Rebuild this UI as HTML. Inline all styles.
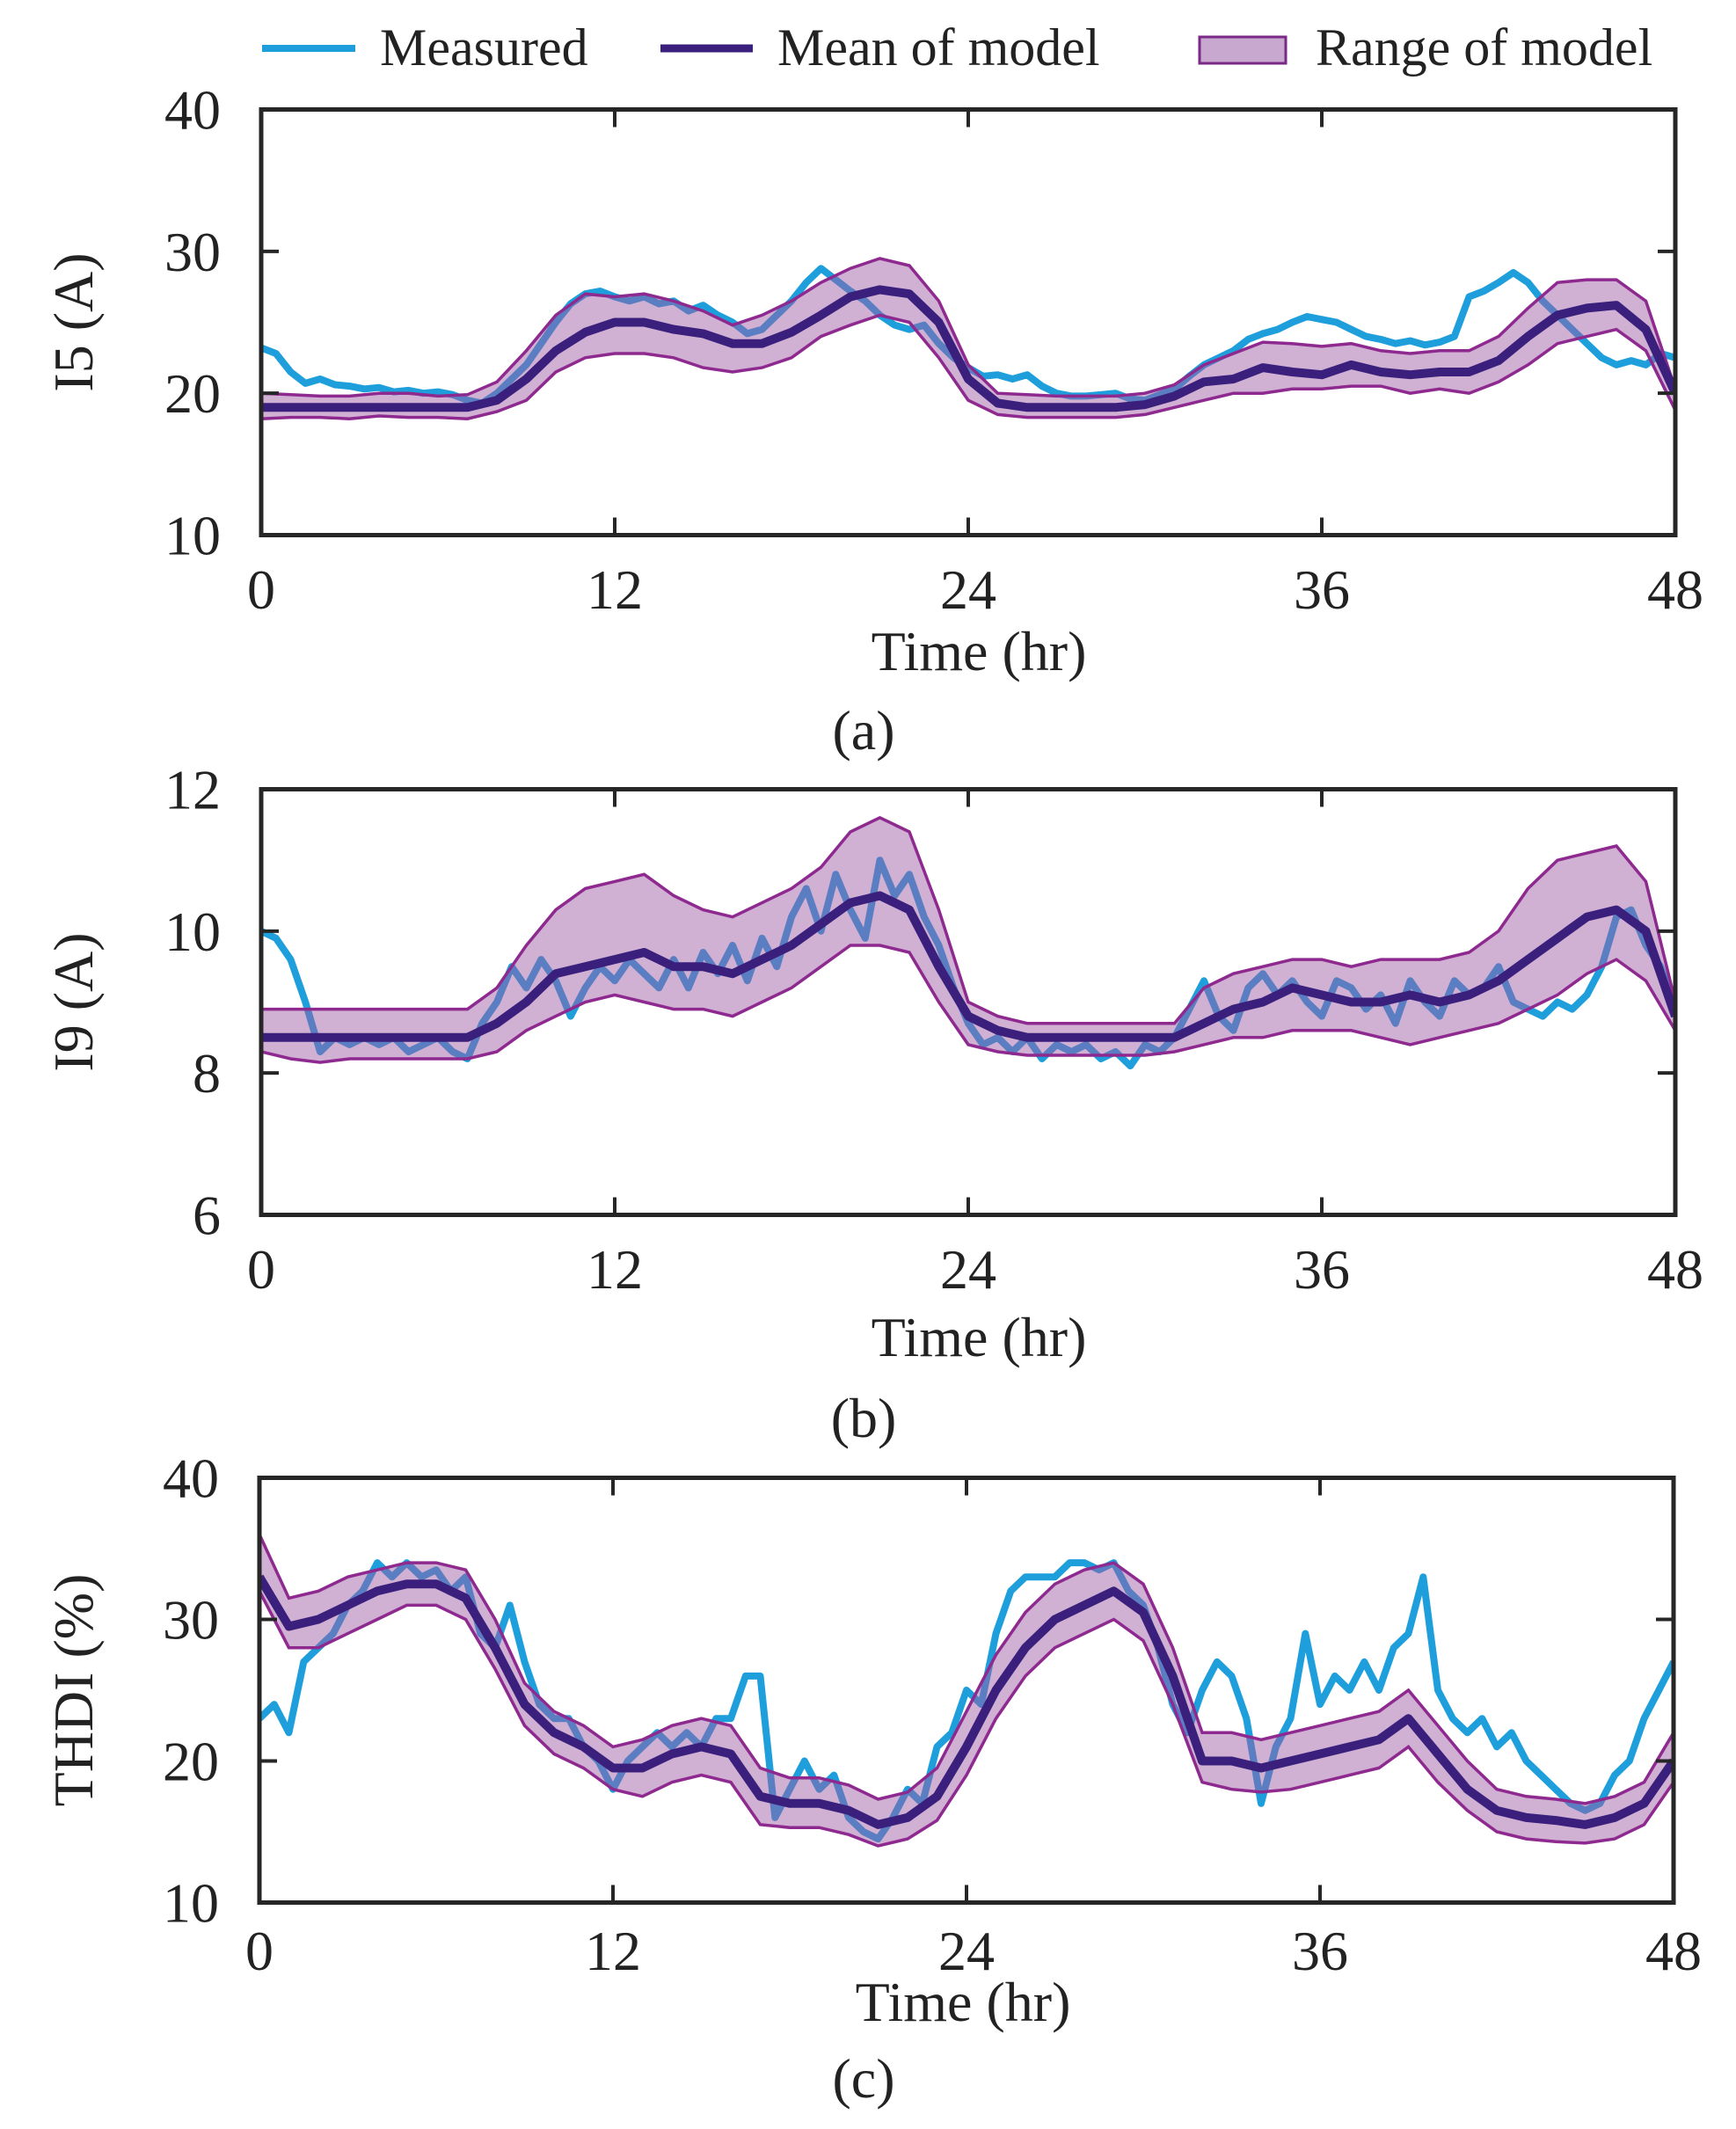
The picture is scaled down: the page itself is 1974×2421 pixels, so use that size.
<!DOCTYPE html>
<html><head><meta charset="utf-8"><style>
html,body{margin:0;padding:0;background:#fff;}
svg{display:block;font-family:"Liberation Serif",serif;}
</style></head><body>
<svg id="fig" width="1974" height="2421" viewBox="0 0 1974 2421" xmlns="http://www.w3.org/2000/svg">
<g>
<line x1="298" y1="55" x2="404" y2="55" stroke="#1e9fdc" stroke-width="8"/>
<text x="432" y="74" font-size="60" fill="#222">Measured</text>
<line x1="751" y1="55" x2="856" y2="55" stroke="#3a1f7c" stroke-width="9"/>
<text x="884" y="74" font-size="60" fill="#222">Mean of model</text>
<rect x="1364" y="42" width="98" height="30" fill="#c8a8cf" stroke="#7a2a86" stroke-width="3"/>
<text x="1496" y="74" font-size="60" fill="#222">Range of model</text>
</g>
</svg>
<script>
const hoursHalf = [];
for (let i = 0; i <= 96; i++) hoursHalf.push(i * 0.5);
const hoursFull = [];
for (let i = 0; i <= 48; i++) hoursFull.push(i);
const xTicks = [0, 12, 24, 36, 48];

// Panel (a) I5
const aYTicks = [10, 20, 30, 40];
const aMeasured = [23.2,22.8,21.5,20.7,21,20.6,20.5,20.3,20.4,20.1,20.2,20,20.1,19.9,19.5,19.3,20,21,22,23.5,25,26.3,27,27.2,26.8,26.5,26.8,26.3,26.5,25.8,26.2,25.5,25,24.2,24.5,25.5,26.5,27.8,28.8,28,27.2,26.5,25.5,24.8,24.5,24.8,23.5,22.5,21.8,21.2,21.3,21,21.3,20.5,20,19.8,19.8,19.9,20,19.6,19.5,19.9,20.3,21.2,22,22.5,23,23.8,24.2,24.5,25,25.4,25.2,25,24.5,24,23.8,23.5,23.7,23.4,23.6,24,26.8,27.2,27.8,28.5,27.8,26.5,25.5,24.5,23.5,22.5,22,22.3,22,22.8,22.5];
const aMean = [19,19,19,19,19,19,19,19,19.5,21,23,24.3,25,25,24.5,24.2,23.5,23.5,24.3,25.5,26.8,27.3,27,25,21,19.3,19,19,19,19,19.2,19.8,20.8,21,21.8,21.5,21.3,22,21.5,21.3,21.5,21.5,22.3,24,25.5,26,26.2,24.5,20];
const aUpper = [20,19.9,19.8,19.8,20,20,19.8,19.9,20.8,23,25.5,27,26.8,27,26.5,25.8,24.8,25.5,26.5,27.8,28.8,29.5,29,26.5,22,20,19.9,19.8,19.8,19.8,20,20.6,22,22.8,23.6,23.5,23.3,23.5,23,22.8,23,23,24,26,27.8,28,28,26.5,20.3];
const aLower = [18.2,18.3,18.3,18.2,18.4,18.3,18.3,18.2,18.7,19.5,21.5,22.5,22.8,22.8,22.5,21.8,21.5,21.8,22.5,24,24.8,25.5,25,22.5,19.5,18.5,18.3,18.3,18.3,18.3,18.5,19,19.5,20,20,20.3,20.3,20.5,20.5,20,20.3,20,20.8,22,23.5,24,24.5,23,18.8];

// Panel (b) I9
const bYTicks = [6, 8, 10, 12];
const bMeasured = [10,9.9,9.6,9,8.3,8.5,8.4,8.5,8.4,8.5,8.3,8.4,8.5,8.3,8.2,8.7,9,9.5,9.2,9.6,9.3,8.8,9.2,9.5,9.3,9.6,9.4,9.2,9.6,9.2,9.7,9.4,9.8,9.3,9.9,9.5,10.2,10.6,10,10.8,10.3,9.9,11,10.5,10.8,10.2,9.8,9.2,8.7,8.4,8.5,8.3,8.5,8.2,8.4,8.3,8.4,8.2,8.3,8.1,8.4,8.3,8.5,8.9,9.3,8.8,8.6,9.2,9.4,9.1,9.3,9,8.8,9.3,9.2,8.9,9.1,8.7,9.3,9,8.8,9.3,9.1,9.2,9.5,9,8.9,8.8,9,8.9,9.1,9.5,10.2,10.3,9.8,9.5,8.9];
const bMean = [8.5,8.5,8.5,8.5,8.5,8.5,8.5,8.5,8.7,9,9.4,9.5,9.6,9.7,9.5,9.5,9.4,9.6,9.8,10.1,10.4,10.5,10.3,9.5,8.8,8.6,8.5,8.5,8.5,8.5,8.5,8.5,8.7,8.9,9,9.2,9.1,9,9,9.1,9,9.1,9.3,9.6,9.9,10.2,10.3,10,8.8];
const bUpper = [8.9,8.9,8.9,8.9,8.9,8.9,8.9,8.9,9.2,9.8,10.3,10.6,10.7,10.8,10.5,10.3,10.2,10.4,10.6,10.9,11.4,11.6,11.4,10.3,9,8.8,8.7,8.7,8.7,8.7,8.7,8.7,9.2,9.4,9.5,9.6,9.6,9.5,9.6,9.6,9.6,9.7,10,10.6,11,11.1,11.2,10.7,9];
const bLower = [8.3,8.2,8.15,8.2,8.2,8.2,8.2,8.2,8.3,8.6,8.8,9,9.1,9,8.9,8.9,8.8,9,9.2,9.5,9.8,9.8,9.7,9,8.4,8.3,8.25,8.25,8.25,8.25,8.25,8.3,8.4,8.5,8.5,8.6,8.6,8.6,8.5,8.4,8.5,8.6,8.7,8.9,9.1,9.4,9.6,9.3,8.6];

// Panel (c) THDI
const cYTicks = [10, 20, 30, 40];
const cMeasured = [23,24,22,27,28,29,31,32,34,33,34,33,33.5,32,33,29,28,31,27,24,23,23,21,20,18,20,21,22,21,22,21,23,23,26,26,16,18,20,18,19,16,15,14.5,16,18,17,21,22,25,24,29,32,33,33,33,34,34,33.5,34,32,31,28,24,22,25,27,26,23,17,21,23,29,24,26,25,27,25,28,29,33,25,23,22,23,21,22,20,19,18,17,16.5,17,19,20,23,25,27];
const cMean = [33,29.5,30,31,32,32.5,32.5,31.5,28,24,22,21,19.5,19.5,20.5,21,20.5,17.5,17,17,16.5,15.5,16,17.5,21,25,28,30,31,32,30.5,26,20,20,19.5,20,20.5,21,21.5,23,20.5,18,16.5,16,15.8,15.5,16,17,20];
const cUpper = [36,31.5,32,33,33.5,34,34,33.5,30,25.5,23.5,22.5,21,21.5,22.5,23,22.5,19.5,18.8,18.8,18.3,17.3,17.8,19.5,23.5,27.5,30.5,32.5,33.5,34,32.5,28,22,22,21.5,22,22.5,23,23.5,25,22.5,20,18,17.5,17.3,17,17.5,18.5,22];
const cLower = [32,28,28,29,30,31,31,30,26.5,22.5,20.5,19.5,18,17.5,18.5,19,18.5,15.5,15.3,15.3,14.8,14,14.5,15.8,19,23,26,28,29,30,28.5,24,18.5,18,17.8,18,18.5,19,19.5,21,18.5,16.5,15,14.5,14.3,14.2,14.5,15.5,18.5];

const svg = document.getElementById('fig');
const NS = 'http://www.w3.org/2000/svg';
function mk(tag, attrs, parent) {
  const e = document.createElementNS(NS, tag);
  for (const k in attrs) e.setAttribute(k, attrs[k]);
  parent.appendChild(e);
  return e;
}

function drawPanel(cfg) {
  const L = cfg.left, R = cfg.right, T = cfg.top, B = cfg.bottom;
  const yMin = cfg.yTicks[0], yMax = cfg.yTicks[cfg.yTicks.length - 1];
  const xs = v => L + (v / 48) * (R - L);
  const ys = v => B - (v - yMin) / (yMax - yMin) * (B - T);
  const g = mk('g', {}, svg);
  
  

  const clipId = 'clip-' + cfg.name;
  const cp = mk('clipPath', {id: clipId}, g);
  mk('rect', {x: L, y: T, width: R - L, height: B - T}, cp);
  const plot = mk('g', {'clip-path': 'url(#' + clipId + ')'}, g);
  
  

  let d = '';
  cfg.measured.forEach((v, i) => { d += (i ? 'L' : 'M') + xs(hoursHalf[i]).toFixed(1) + ' ' + ys(v).toFixed(1); });
  const meas = mk('path', {d: d, fill: 'none', stroke: '#1e9fdc', 'stroke-width': 8, 'stroke-linejoin': 'round'}, plot);
  
  

  let bd = '';
  cfg.upper.forEach((v, i) => { bd += (i ? 'L' : 'M') + xs(hoursFull[i]).toFixed(1) + ' ' + ys(v).toFixed(1); });
  for (let i = cfg.lower.length - 1; i >= 0; i--) bd += 'L' + xs(hoursFull[i]).toFixed(1) + ' ' + ys(cfg.lower[i]).toFixed(1);
  bd += 'Z';
  const band = mk('path', {d: bd, fill: '#9c5aa3', 'fill-opacity': 0.48, stroke: 'none'}, plot);
  
  
  [['upper', cfg.upper], ['lower', cfg.lower]].forEach(([nm, arr]) => {
    let ed = '';
    arr.forEach((v, i) => { ed += (i ? 'L' : 'M') + xs(hoursFull[i]).toFixed(1) + ' ' + ys(v).toFixed(1); });
    const e = mk('path', {d: ed, fill: 'none', stroke: '#8e2a8f', 'stroke-width': 3.5}, plot);
    
    
  });

  let md = '';
  cfg.mean.forEach((v, i) => { md += (i ? 'L' : 'M') + xs(hoursFull[i]).toFixed(1) + ' ' + ys(v).toFixed(1); });
  const mean = mk('path', {d: md, fill: 'none', stroke: '#3a1f7c', 'stroke-width': 10, 'stroke-linejoin': 'round'}, plot);
  
  

  const fr = mk('rect', {x: L, y: T, width: R - L, height: B - T, fill: 'none', stroke: '#262626', 'stroke-width': 5}, g);
  
  

  xTicks.forEach(t => {
    const x = xs(t);
    if (t > 0 && t < 48) {
      const a = mk('line', {x1: x, y1: B, x2: x, y2: B - 20, stroke: '#262626', 'stroke-width': 4}, g);
      
      
      const b = mk('line', {x1: x, y1: T, x2: x, y2: T + 20, stroke: '#262626', 'stroke-width': 4}, g);
      
      
    }
    const tx = mk('text', {x: x, y: cfg.xLabelY, 'font-size': 64, 'text-anchor': 'middle', fill: '#222'}, g);
    
    
    tx.textContent = t;
  });
  cfg.yTicks.forEach(t => {
    const y = ys(t);
    if (t > yMin && t < yMax) {
      const a = mk('line', {x1: L, y1: y, x2: L + 20, y2: y, stroke: '#262626', 'stroke-width': 4}, g);
      
      
      const b = mk('line', {x1: R, y1: y, x2: R - 20, y2: y, stroke: '#262626', 'stroke-width': 4}, g);
      
      
    }
    const tx = mk('text', {x: L - 46, y: y + 22, 'font-size': 64, 'text-anchor': 'end', fill: '#222'}, g);
    
    
    tx.textContent = t;
  });
  const yt = mk('text', {x: 0, y: 0, 'font-size': 64, 'text-anchor': 'middle', fill: '#222',
    transform: 'translate(' + (cfg.yTitleX) + ',' + ((T + B) / 2) + ') rotate(-90)'}, g);
  
  
  yt.textContent = cfg.yTitle;
  const xt = mk('text', {x: cfg.xTitleX, y: cfg.xTitleY, 'font-size': 64, 'text-anchor': 'middle', fill: '#222'}, g);
  
  
  xt.textContent = 'Time (hr)';
  const cap = mk('text', {x: 982, y: cfg.capY, 'font-size': 64, 'text-anchor': 'middle', fill: '#222'}, g);
  
  
  cap.textContent = cfg.caption;
}

drawPanel({name: 'panel-a-i5', left: 297, right: 1905, top: 124.5, bottom: 608.5, yTicks: aYTicks,
  measured: aMeasured, mean: aMean, upper: aUpper, lower: aLower, xLabelY: 692, yTitle: 'I5 (A)', yTitleX: 105,
  xTitleX: 1113, xTitleY: 762, caption: '(a)', capY: 852});
drawPanel({name: 'panel-b-i9', left: 297, right: 1905, top: 897.5, bottom: 1381.5, yTicks: bYTicks,
  measured: bMeasured, mean: bMean, upper: bUpper, lower: bLower, xLabelY: 1465, yTitle: 'I9 (A)', yTitleX: 105,
  xTitleX: 1113, xTitleY: 1542, caption: '(b)', capY: 1634});
drawPanel({name: 'panel-c-thdi', left: 295, right: 1903, top: 1680.5, bottom: 2163.5, yTicks: cYTicks,
  measured: cMeasured, mean: cMean, upper: cUpper, lower: cLower, xLabelY: 2240, yTitle: 'THDI  (%)', yTitleX: 105,
  xTitleX: 1095, xTitleY: 2298, caption: '(c)', capY: 2385});
</script>
</body></html>
